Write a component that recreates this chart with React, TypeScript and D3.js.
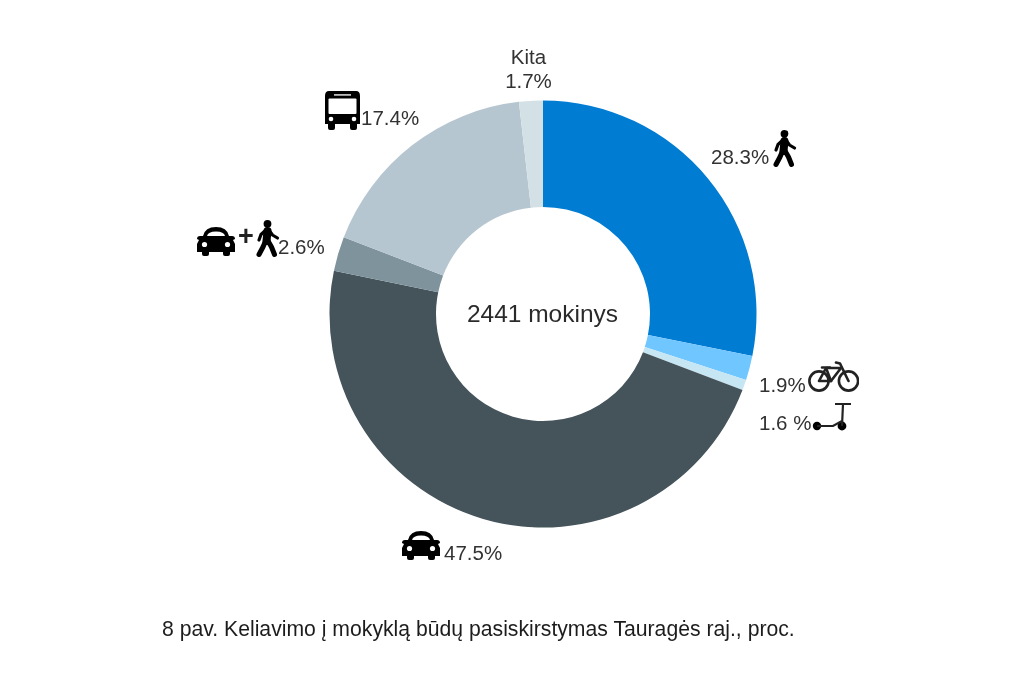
import React from "react";
import * as d3 from "d3";

const categories = ["Pėsčiomis", "Dviračiu", "Paspirtuku", "Automobiliu", "Automobiliu + pėsčiomis", "Autobusu", "Kita"];
// Printed labels and the drawn sector sizes differ slightly in the source picture; both are read from it.
const printedLabels = ["28.3%", "1.9%", "1.6 %", "47.5%", "2.6%", "17.4%", "1.7%"];
const sectorShares = [28.15, 1.85, 0.8, 47.45, 2.6, 17.35, 1.8];
const colors = ["#067BD3", "#6FC6FF", "#C6E6F4", "#44535A", "#7F939D", "#B5C6D0", "#D3E0E5"];
const centerLabel = "2441 mokinys";
const caption = "8 pav. Keliavimo į mokyklą būdų pasiskirstymas Tauragės raj., proc.";
const labelPositions = [
  { x: 711, y: 164 },
  { x: 759, y: 392 },
  { x: 759, y: 430 },
  { x: 444, y: 560 },
  { x: 278, y: 254 },
  { x: 361, y: 125 },
];

const Walker = ({ x, y }: { x: number; y: number }) => (
  <g transform={`translate(${x},${y})`} stroke="#000" fill="none" strokeLinecap="round" strokeLinejoin="round">
    <circle cx={10.5} cy={3.8} r={3.9} fill="#000" stroke="none" />
    <path d="M10.5 11 L9.5 21" strokeWidth={8} />
    <path d="M9 20 L6 27 L2 34.5" strokeWidth={5} />
    <path d="M10.5 20 L14.5 27 L17.5 34.5" strokeWidth={5} />
    <path d="M9.5 9.5 L4 14.5 L2 20" strokeWidth={3.2} />
    <path d="M11.5 9.5 L15.5 15 L20.5 18" strokeWidth={3.2} />
  </g>
);

const Car = ({ x, y }: { x: number; y: number }) => (
  <g transform={`translate(${x},${y})`}>
    <path d="M6 10 Q8 1 19 1 Q30 1 32 10 L35 10 Q38 10 38 13 L36 14 L38 18 L38 26 L33 26 L33 28 Q33 30 31 30 L28 30 Q26 30 26 28 L26 26 L12 26 L12 28 Q12 30 10 30 L7 30 Q5 30 5 28 L5 26 L0 26 L0 18 L2 14 L0 13 Q0 10 3 10 Z" fill="#000" />
    <path d="M10 10 Q11 5.5 19 5.5 Q27 5.5 28 10 Z" fill="#fff" />
    <circle cx={7.5} cy={18.5} r={2.6} fill="#fff" />
    <circle cx={30.5} cy={18.5} r={2.6} fill="#fff" />
  </g>
);

const Bus = ({ x, y }: { x: number; y: number }) => (
  <g transform={`translate(${x},${y})`}>
    <path d="M4 0 H31 Q35 0 35 5 V33 H32 V37 Q32 39 30 39 H27 Q25 39 25 37 V33 H10 V37 Q10 39 8 39 H5 Q3 39 3 37 V33 H0 V5 Q0 0 4 0 Z" fill="#000" />
    <rect x={3.5} y={7.5} width={28} height={15.5} rx={1} fill="#fff" />
    <rect x={9} y={3} width={17} height={1.8} fill="#bbb" />
    <circle cx={6} cy={28} r={2.3} fill="#fff" />
    <circle cx={29} cy={28} r={2.3} fill="#fff" />
  </g>
);

const Bike = ({ x, y }: { x: number; y: number }) => (
  <g transform={`translate(${x},${y})`} fill="none" stroke="#222" strokeWidth={2.6} strokeLinejoin="round" strokeLinecap="round">
    <circle cx={11} cy={19} r={9.6} />
    <circle cx={40.5} cy={19} r={9.6} />
    <path d="M11 19 L18 6 L33 6 L23 19 Z" />
    <path d="M18 6 L23 19 M40.5 19 L32 1.5 L28 0.5 M14 5.5 L22 5.5" />
  </g>
);

const Scooter = ({ x, y }: { x: number; y: number }) => (
  <g transform={`translate(${x},${y})`}>
    <circle cx={4} cy={23} r={4.2} fill="#000" />
    <circle cx={29} cy={23} r={4.4} fill="#000" />
    <path d="M4 23 H20 L29 18 M29 23 L30 1 M22 1 H38" fill="none" stroke="#222" strokeWidth={2.2} />
  </g>
);

export default function App() {
  const cx = 543, cy = 314, outer = 213.5, inner = 107;
  const pie = d3.pie<number>().sort(null).value((d) => d);
  const arc = d3.arc<d3.PieArcDatum<number>>().innerRadius(inner).outerRadius(outer);
  const font = '"Liberation Sans", Arial, sans-serif';
  return (
    <svg width={1024} height={683} style={{ position: "absolute", left: 0, top: 0 }} fontFamily={font}>
      <defs>
        <filter id="soft" x="0" y="0" width="100%" height="100%">
          <feGaussianBlur stdDeviation={0.45} />
        </filter>
      </defs>
      <rect width={1024} height={683} fill="#fff" />
      <g filter="url(#soft)">
        <g transform={`translate(${cx},${cy})`}>
          {pie(sectorShares).map((d, i) => (
            <path key={categories[i]} d={arc(d) ?? ""} fill={colors[i]} />
          ))}
        </g>
        <text x={cx - 0.5} y={322} textAnchor="middle" fontSize={24.5} fill="#2b2b2b">{centerLabel}</text>
        {labelPositions.map((l, i) => (
          <text key={printedLabels[i]} x={l.x} y={l.y} fontSize={20.5} fill="#333">{printedLabels[i]}</text>
        ))}
        <text x={528.5} y={64} textAnchor="middle" fontSize={20.5} fill="#333">Kita</text>
        <text x={528.5} y={88} textAnchor="middle" fontSize={20.5} fill="#333">{printedLabels[6]}</text>
        <Walker x={774} y={130} />
        <Bike x={808} y={362} />
        <Scooter x={813} y={403} />
        <Car x={402} y={530} />
        <Car x={197} y={226} />
        <text x={246} y={245} textAnchor="middle" fontSize={27} fontWeight={700} fill="#222">+</text>
        <Walker x={257} y={220} />
        <Bus x={325} y={91} />
        <text x={162} y={636} fontSize={21.2} fill="#1e1e1e">{caption}</text>
      </g>
    </svg>
  );
}
